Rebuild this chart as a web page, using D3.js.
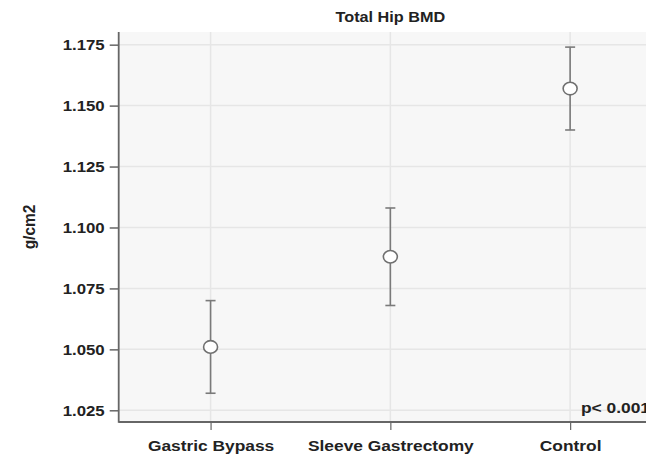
<!DOCTYPE html>
<html><head><meta charset="utf-8">
<script src="https://cdn.jsdelivr.net/npm/d3@7"></script>
<style>body{margin:0;background:#fff}svg{display:block}</style>
</head><body>
<script>
const categories = ["Gastric Bypass", "Sleeve Gastrectomy", "Control"];
const means = [1.051, 1.088, 1.157];
const lower = [1.032, 1.068, 1.140];
const upper = [1.070, 1.108, 1.174];
const yTicks = [1.025, 1.050, 1.075, 1.100, 1.125, 1.150, 1.175];
const title = "Total Hip BMD";
const yTitle = "g/cm2";
const note = "p< 0.001";

const W = 646, H = 456, SX = 1.12;
const mLeft = 118.7, mTop = 32, mBottom = 422, mRight = 662;
const font = "'Liberation Sans', Arial, sans-serif";

const svg = d3.select("body").append("svg").attr("width", W).attr("height", H);
const x = d3.scalePoint().domain(categories).range([mLeft, mRight]).padding(0.511);
const y = d3.scaleLinear().domain([1.0202, 1.1802]).range([mBottom, mTop]);

svg.append("rect").attr("x", mLeft).attr("y", mTop).attr("width", W - mLeft).attr("height", mBottom - mTop).attr("fill", "#f7f7f7");

// grid
svg.append("g").selectAll("line").data(yTicks).join("line")
  .attr("x1", mLeft).attr("x2", W).attr("y1", d => y(d)).attr("y2", d => y(d))
  .attr("stroke", "#e6e6e6").attr("stroke-width", 1.5);
svg.append("g").selectAll("line").data(categories).join("line")
  .attr("x1", d => x(d)).attr("x2", d => x(d)).attr("y1", mTop).attr("y2", mBottom)
  .attr("stroke", "#e6e6e6").attr("stroke-width", 1.5);

// axes
const ya = svg.append("g").attr("transform", `translate(${mLeft},0)`)
  .call(d3.axisLeft(y).tickValues(yTicks).tickSize(9).tickPadding(5).tickFormat(d3.format(".3f")));
ya.select(".domain").remove();
ya.selectAll(".tick line").attr("stroke", "#666").attr("stroke-width", 1.5);
ya.selectAll(".tick text").attr("font-family", font).attr("font-weight", "bold").attr("font-size", 15).attr("fill", "#222")
  .attr("dy", "0.35em").attr("x", 0).attr("transform", `translate(-14,0) scale(${SX},1)`);

const xa = svg.append("g").attr("transform", `translate(0,${mBottom})`)
  .call(d3.axisBottom(x).tickSize(8).tickPadding(0));
xa.select(".domain").remove();
xa.selectAll(".tick line").attr("stroke", "#666").attr("stroke-width", 1.2);
xa.selectAll(".tick text").attr("font-family", font).attr("font-weight", "bold").attr("font-size", 15.5).attr("fill", "#222")
  .attr("y", 0).attr("dy", 0).attr("transform", `translate(0,29) scale(${SX},1)`);

svg.append("line").attr("x1", mLeft).attr("x2", mLeft).attr("y1", mTop).attr("y2", mBottom + 0.75).attr("stroke", "#666").attr("stroke-width", 1.8);
svg.append("line").attr("x1", mLeft).attr("x2", W).attr("y1", mBottom).attr("y2", mBottom).attr("stroke", "#666").attr("stroke-width", 1.8);

// error bars
const eb = svg.append("g").selectAll("g").data(categories).join("g");
eb.append("line").attr("x1", d => x(d)).attr("x2", d => x(d))
  .attr("y1", (d, i) => y(lower[i])).attr("y2", (d, i) => y(upper[i]))
  .attr("stroke", "#7a7a7a").attr("stroke-width", 1.6);
eb.append("line").attr("x1", d => x(d) - 5).attr("x2", d => x(d) + 5)
  .attr("y1", (d, i) => y(upper[i])).attr("y2", (d, i) => y(upper[i]))
  .attr("stroke", "#7a7a7a").attr("stroke-width", 1.6);
eb.append("line").attr("x1", d => x(d) - 5).attr("x2", d => x(d) + 5)
  .attr("y1", (d, i) => y(lower[i])).attr("y2", (d, i) => y(lower[i]))
  .attr("stroke", "#7a7a7a").attr("stroke-width", 1.6);
eb.append("ellipse").attr("cx", d => x(d)).attr("cy", (d, i) => y(means[i]))
  .attr("rx", 7).attr("ry", 6.3).attr("fill", "#fff").attr("stroke", "#707070").attr("stroke-width", 1.6);

// texts
svg.append("text").attr("transform", `translate(${(mLeft + mRight) / 2},21.5) scale(${SX},1)`)
  .attr("text-anchor", "middle").attr("font-family", font).attr("font-weight", "bold").attr("font-size", 14.5).attr("fill", "#222").text(title);
svg.append("text").attr("transform", `translate(35,227) rotate(-90) scale(1,${SX})`)
  .attr("text-anchor", "middle").attr("font-family", font).attr("font-weight", "bold").attr("font-size", 15.5).attr("fill", "#222").text(yTitle);
svg.append("text").attr("transform", `translate(581,413) scale(${SX},1)`)
  .attr("font-family", font).attr("font-weight", "bold").attr("font-size", 15.5).attr("fill", "#222").text(note);
</script>
</body></html>
